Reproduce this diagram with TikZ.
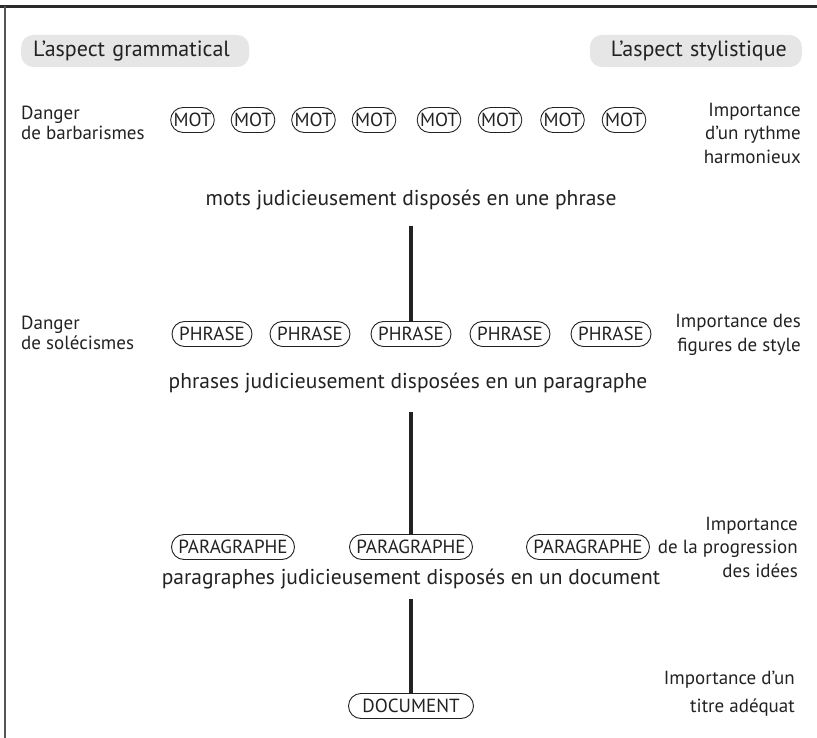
\documentclass[tikz,border=0pt]{standalone}
\usepackage{fontspec}
\setmainfont{PT Sans}
\definecolor{ink}{HTML}{222222}
\definecolor{hdrgray}{HTML}{E6E6E6}
\definecolor{rule}{HTML}{2A2A2A}
\begin{document}
\begin{tikzpicture}[x=1pt,y=-1pt,
  every node/.style={text=ink},
  hdr/.style={fill=hdrgray, rounded corners=12pt, minimum height=32pt,
    inner ysep=0pt, font=\fontsize{22}{26}\selectfont},
  pill/.style={draw=ink, line width=0.9pt, rounded corners=12.5pt,
    minimum height=25pt, inner xsep=3pt, inner ysep=0pt,
    font=\fontsize{19}{20}\selectfont},
  motpill/.style={pill, minimum width=41pt},
  phrpill/.style={pill, minimum width=80pt},
  parpill/.style={pill, minimum width=123pt},
  docpill/.style={pill, minimum width=125pt},
  lefttxt/.style={anchor=west, align=left, inner sep=0pt,
    font=\fontsize{19}{19.5}\selectfont},
  righttxt/.style={anchor=east, align=right, inner sep=0pt,
    font=\fontsize{19}{23.5}\selectfont},
  midtxt/.style={inner sep=0pt, font=\fontsize{21.5}{24}\selectfont},
  conn/.style={draw=ink, line width=4.5pt}
]
\useasboundingbox (0,0) rectangle (817,738);

% frame: heavy top rule and thin left rule
\draw[rule, line width=3.5pt] (0,6.5) -- (817,6.5);
\draw[rule!80, line width=1.6pt] (5,6.5) -- (5,738);

% column headers
\node[hdr, anchor=west, text width=204pt, align=left, inner xsep=12pt]
  (hgram) at (21,51) {L’aspect grammatical};
\node[hdr, anchor=east, text width=182pt, align=right, inner xsep=15pt]
  (hstyl) at (802,51) {L’aspect stylistique};

% level 1: words
\node[lefttxt] (dang1) at (21,123) {Danger\\de barbarismes};
\foreach \x [count=\i] in {192.5,253,313.5,374,439,500,562.5,624}
  \node[motpill] (mot\i) at (\x,120) {MOT};
\node[righttxt] (imp1) at (801,133) {Importance\\d’un rythme\\harmonieux};
\node[midtxt] (t1) at (411,200) {mots judicieusement disposés en une phrase};

% level 2: sentences
\node[lefttxt] (dang2) at (21,333) {Danger\\de solécismes};
\foreach \x [count=\i] in {212,310,411,510,611}
  \node[phrpill] (ph\i) at (\x,334) {PHRASE};
\node[righttxt] (imp2) at (801,335) {Importance des\\figures de style};
\node[midtxt] (t2) at (408,383) {phrases judicieusement disposées en un paragraphe};

% level 3: paragraphs
\foreach \x [count=\i] in {233,411,588}
  \node[parpill] (pa\i) at (\x,547) {PARAGRAPHE};
\node[righttxt] (imp3) at (798,547) {Importance\\de la progression\\des idées};
\node[midtxt] (t3) at (411,579) {paragraphes judicieusement disposés en un document};

% level 4: document
\node[docpill] (doc) at (411,706) {DOCUMENT};
\node[righttxt, font=\fontsize{19}{28}\selectfont] (imp4) at (795,694)
  {Importance d’un\\titre adéquat};

% connectors between levels
\coordinate (c1) at (411,226);
\coordinate (c2) at (411,412);
\coordinate (c3) at (411,599);
\draw[conn] (c1) -- (ph3.north);
\draw[conn] (c2) -- (pa2.north);
\draw[conn] (c3) -- (doc.north);
\end{tikzpicture}
\end{document}
